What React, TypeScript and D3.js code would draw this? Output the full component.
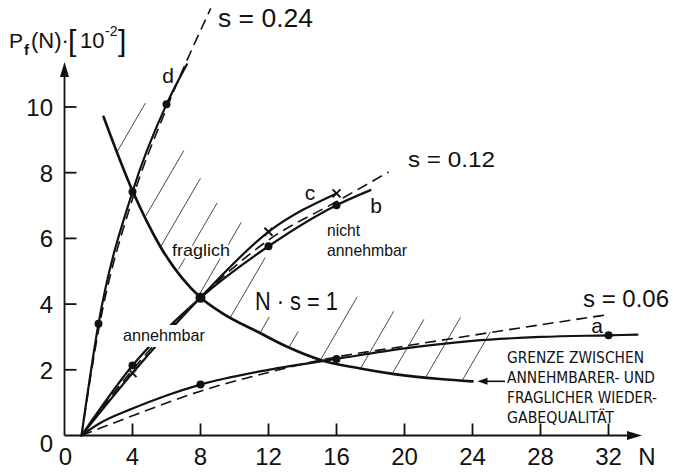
import React from 'react';
import * as d3 from 'd3';

type Pt = [number, number];

const xTicks = [4, 8, 12, 16, 20, 24, 28, 32];
const xTickLabels = ['4', '8', '12', '16', '20', '24', '28', '32'];
const yTicks = [2, 4, 6, 8, 10];
const yTickLabels = ['2', '4', '6', '8', '10'];

// curve d (measured) and s = 0.24 (dashed)
const curveD: Pt[] = [[1, 0], [2, 3.4], [4, 7.42], [6, 10.08], [7.2, 11.3]];
const dashS024: Pt[] = [[1, 0], [2, 3.2], [4, 7.2], [6, 9.95], [8.6, 13.0]];
// curves c, b and s = 0.12
const curveC: Pt[] = [[1, 0], [4, 1.9], [8, 4.2], [12, 6.2], [16, 7.37]];
const curveB: Pt[] = [[1, 0], [4, 2.13], [8, 4.19], [12, 5.76], [16, 7.01], [18, 7.47]];
const dashS012: Pt[] = [[1, 0], [4, 2.0], [8, 4.2], [12, 5.95], [16, 7.12], [19.06, 8.02]];
// curve a and s = 0.06
const curveA: Pt[] = [[1, 0], [2, 0.35], [4, 0.82], [6, 1.22], [8, 1.55], [12, 2.0], [16, 2.33], [20, 2.65], [24, 2.88], [28, 3.0], [32, 3.05], [33.7, 3.07]];
const dashS006: Pt[] = [[1, 0], [4, 0.6], [8, 1.35], [12, 1.92], [15, 2.29], [20, 2.72], [24, 3.05], [28, 3.37], [32, 3.68]];
// boundary N * s = 1
const boundary: Pt[] = [[2.3, 9.7], [4, 7.45], [5.65, 5.74], [8, 4.2], [9.2, 3.75], [11.5, 3.12], [13.1, 2.7], [15.06, 2.3], [17.4, 2.04], [19.4, 1.87], [22.1, 1.72], [24, 1.65]];

const dotsD: Pt[] = [[2, 3.4], [4, 7.42], [6, 10.08]];
const dotsB: Pt[] = [[4, 2.13], [8, 4.19], [12, 5.76], [16, 7.01]];
const crossesC: Pt[] = [[4, 1.9], [8, 4.2], [12, 6.2], [16, 7.37]];
const dotsA: Pt[] = [[8, 1.55], [16, 2.33], [32, 3.05]];

// hatching: [start N on boundary, end N]
const hatches: Pt[] = [[3.1, 4.76], [4.76, 7.02], [5.65, 8.0], [6.7, 8.98], [7.9, 10.4], [9.76, 11.8], [11.5, 12.05], [13.2, 13.75], [15.06, 17.22], [17.41, 19.37], [19.28, 21.14], [21.24, 23.29], [23.39, 25.06]];
const hatchSlope = 0.89;

const noteLines = ['GRENZE ZWISCHEN', 'ANNEHMBARER- UND', 'FRAGLICHER WIEDER-', 'GABEQUALITÄT'];
const noteWidths = [137, 148, 150, 107];

const FONT = 'Liberation Sans, Arial, sans-serif';
const NARROW = 'Liberation Sans Narrow, DejaVu Sans Condensed, Liberation Sans, sans-serif';

export default function App() {
  const x = d3.scaleLinear().domain([0, 32]).range([64.5, 608.5]);
  const y = d3.scaleLinear().domain([0, 10]).range([435.5, 107]);
  const line = d3.line<Pt>().x(d => x(d[0])).y(d => y(d[1])).curve(d3.curveMonotoneX);
  const bInterp = d3.scaleLinear().domain(boundary.map(d => d[0])).range(boundary.map(d => d[1])).clamp(true);

  const halo = { stroke: '#fff', strokeWidth: 5, paintOrder: 'stroke', strokeLinejoin: 'round' } as any;
  const x0 = x(0), y0 = y(0);
  const bEnd = boundary[boundary.length - 1];

  return (
    <svg width={673} height={474} style={{ display: 'block', position: 'absolute', left: 0, top: 0, background: '#fff' }} fontFamily={FONT}>
      <rect width={673} height={474} fill="#fff" />
      {/* hatching */}
      <g stroke="#333" strokeWidth={0.9}>
        {hatches.map(([n1, n2], i) => {
          const p1 = bInterp(n1);
          const p2 = p1 + hatchSlope * (n2 - n1);
          return <line key={i} x1={x(n1)} y1={y(p1)} x2={x(n2)} y2={y(p2)} />;
        })}
      </g>
      {/* region texts with halo */}
      <g fill="#111" fontSize={17}>
        <text x={172} y={256} textLength={58} lengthAdjust="spacingAndGlyphs" {...halo}>fraglich</text>
        <text x={327} y={236} textLength={33} lengthAdjust="spacingAndGlyphs" {...halo}>nicht</text>
        <text x={327} y={256} textLength={80} lengthAdjust="spacingAndGlyphs" {...halo}>annehmbar</text>
        <text x={255} y={310} fontSize={25} textLength={83} lengthAdjust="spacingAndGlyphs" {...halo}>N · s = 1</text>
      </g>
      {/* axes */}
      <g stroke="#111" strokeWidth={1.8} fill="none">
        <line x1={x0} y1={y0} x2={x0} y2={72} />
        <line x1={x0} y1={y0} x2={632} y2={y0} />
        {yTicks.map(t => <line key={t} x1={x0} x2={x0 + 12} y1={y(t)} y2={y(t)} />)}
        {xTicks.map(t => <line key={t} x1={x(t)} x2={x(t)} y1={y0} y2={y0 - 12} />)}
      </g>
      <polygon points={`${x0},62 ${x0 - 4.5},77 ${x0 + 4.5},77`} fill="#111" />
      <polygon points={`642,${y0} 627,${y0 - 4.5} 627,${y0 + 4.5}`} fill="#111" />
      <g fontSize={24} fill="#111">
        {yTicks.map((t, i) => <text key={t} x={53} y={y(t) + 9} textAnchor="end">{yTickLabels[i]}</text>)}
        <text x={53} y={452} textAnchor="end">0</text>
        {xTicks.map((t, i) => <text key={t} x={x(t)} y={465} textAnchor="middle">{xTickLabels[i]}</text>)}
        <text x={x(0) + 1} y={465} textAnchor="middle">0</text>
        <text x={647} y={465} textAnchor="middle">N</text>
      </g>
      {/* y label */}
      <g fill="#111">
        <text x={9} y={48} fontSize={21}>P</text>
        <text x={24} y={55} fontSize={15} fontWeight="bold">f</text>
        <text x={31} y={48} fontSize={22}>(N)·</text>
        <text x={68} y={51} fontSize={30}>[</text>
        <text x={80} y={48} fontSize={22}>10</text>
        <text x={105} y={36} fontSize={14}>-2</text>
        <text x={118} y={51} fontSize={30}>]</text>
      </g>
      {/* dashed theory lines */}
      <g fill="none" stroke="#111" strokeWidth={1.6} strokeDasharray="11 6">
        <path d={line(dashS024) || ''} />
        <path d={line(dashS012) || ''} />
        <path d={line(dashS006) || ''} />
      </g>
      {/* measured curves */}
      <g fill="none" stroke="#111" strokeWidth={2.2} strokeLinecap="round">
        <path d={line(curveD) || ''} />
        <path d={line(curveC) || ''} />
        <path d={line(curveB) || ''} />
        <path d={line(curveA) || ''} />
        <path d={line(boundary) || ''} strokeWidth={2.7} />
      </g>
      {/* markers */}
      <g fill="#111">
        {[...dotsD, ...dotsB, ...dotsA].map((d, i) => (
          <circle key={i} cx={x(d[0])} cy={y(d[1])} r={d[0] === 8 && d[1] > 4 ? 5 : 4} />
        ))}
      </g>
      <g stroke="#111" strokeWidth={2}>
        {crossesC.map((d, i) => {
          const cx = x(d[0]), cy = y(d[1]);
          return (
            <g key={i}>
              <line x1={cx - 4} y1={cy - 4} x2={cx + 4} y2={cy + 4} />
              <line x1={cx - 4} y1={cy + 4} x2={cx + 4} y2={cy - 4} />
            </g>
          );
        })}
      </g>
      {/* left region label: lines are interrupted under it */}
      <rect x={141} y={325} width={50} height={22} fill="#fff" />
      <text x={123} y={341} fontSize={17} fill="#111" textLength={82} lengthAdjust="spacingAndGlyphs">annehmbar</text>
      {/* curve labels */}
      <g fill="#111" fontSize={21} textAnchor="middle">
        <text x={168} y={83}>d</text>
        <text x={310} y={200}>c</text>
        <text x={376} y={213}>b</text>
        <text x={597} y={333}>a</text>
      </g>
      <g fill="#111">
        <text x={218} y={27} fontSize={26} textLength={95} lengthAdjust="spacingAndGlyphs">s = 0.24</text>
        <text x={408} y={167} fontSize={22} textLength={87} lengthAdjust="spacingAndGlyphs">s = 0.12</text>
        <text x={583} y={307} fontSize={23} textLength={86} lengthAdjust="spacingAndGlyphs">s = 0.06</text>
      </g>
      {/* annotation */}
      <g fill="#111" fontSize={16} fontFamily={NARROW}>
        {noteLines.map((t, i) => (
          <text key={i} x={507} y={363 + i * 20} textLength={noteWidths[i]} lengthAdjust="spacingAndGlyphs">{t}</text>
        ))}
      </g>
      <line x1={505} y1={y(bEnd[1])} x2={486} y2={y(bEnd[1])} stroke="#111" strokeWidth={1.6} />
      <polygon points={`${x(bEnd[0]) + 5},${y(bEnd[1])} ${x(bEnd[0]) + 15},${y(bEnd[1]) - 3.5} ${x(bEnd[0]) + 15},${y(bEnd[1]) + 3.5}`} fill="#111" />
    </svg>
  );
}
